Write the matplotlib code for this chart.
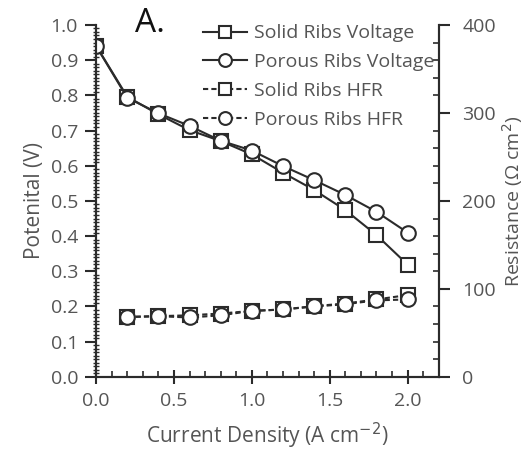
import matplotlib
matplotlib.use('Agg')
import matplotlib.pyplot as plt
from matplotlib.ticker import MultipleLocator

plt.rcParams['font.family'] = ['Open Sans', 'DejaVu Sans']

current = [0.0, 0.2, 0.4, 0.6, 0.8, 1.0, 1.2, 1.4, 1.6, 1.8, 2.0]
solid_v = [0.941, 0.796, 0.746, 0.701, 0.670, 0.632, 0.580, 0.531, 0.474, 0.403, 0.319]
porous_v = [0.940, 0.793, 0.749, 0.713, 0.671, 0.643, 0.599, 0.559, 0.517, 0.469, 0.410]

current_hfr = [0.2, 0.4, 0.6, 0.8, 1.0, 1.2, 1.4, 1.6, 1.8, 2.0]
solid_hfr = [68.2, 69.0, 70.0, 72.0, 75.0, 76.6, 80.4, 83.4, 88.0, 93.0]
porous_hfr = [68.0, 69.0, 67.5, 70.0, 75.0, 76.6, 80.0, 82.6, 87.0, 88.0]

line_c = '#2b2b2b'
text_c = '#555555'

fig = plt.figure(figsize=(5.28, 4.53), dpi=100)
ax = fig.add_axes([0.182, 0.168, 0.649, 0.777])
ax2 = ax.twinx()

mk = dict(color=line_c, markerfacecolor='white', markeredgecolor=line_c,
          markeredgewidth=1.5, linewidth=1.5, markersize=10.5)
h1, = ax.plot(current, solid_v, '-', marker='s', label='Solid Ribs Voltage', **mk)
h2, = ax.plot(current, porous_v, '-', marker='o', label='Porous Ribs Voltage', **mk)
h3, = ax2.plot(current_hfr, solid_hfr, '--', marker='s', dashes=(2.5, 1.5), label='Solid Ribs HFR', **mk)
h4, = ax2.plot(current_hfr, porous_hfr, '--', marker='o', dashes=(2.5, 1.5), label='Porous Ribs HFR', **mk)

ax.set_xlim(0, 2.2)
ax.set_ylim(0, 1.0)
ax2.set_ylim(0, 400)

for a in (ax, ax2):
    a.spines['top'].set_visible(False)
    for s in ('left', 'right', 'bottom'):
        a.spines[s].set_linewidth(1.5)
        a.spines[s].set_color(line_c)

ax.xaxis.set_major_locator(MultipleLocator(0.5))
ax.xaxis.set_minor_locator(MultipleLocator(0.1))
ax.yaxis.set_major_locator(MultipleLocator(0.1))
ax.yaxis.set_minor_locator(MultipleLocator(0.01))
ax2.yaxis.set_major_locator(MultipleLocator(100))
ax2.yaxis.set_minor_locator(MultipleLocator(20))

ax.tick_params(axis='x', which='major', direction='inout', length=10, width=1.5,
               color=line_c, labelcolor=text_c, labelsize=14, pad=6)
ax.tick_params(axis='y', which='major', direction='out', length=8, width=1.5,
               color=line_c, labelcolor=text_c, labelsize=14, pad=5)
ax.tick_params(axis='x', which='minor', direction='in', length=4, width=1.2, color=line_c)
ax.tick_params(axis='y', which='minor', direction='inout', length=5, width=1.0, color=line_c)
ax2.tick_params(axis='y', which='major', direction='out', length=8, width=1.5,
                color=line_c, labelcolor=text_c, labelsize=14, pad=9)
ax2.tick_params(axis='y', which='minor', direction='in', length=4, width=1.2, color=line_c)
ax.xaxis.set_major_formatter(plt.FormatStrFormatter('%.1f'))
ax.yaxis.set_major_formatter(plt.FormatStrFormatter('%.1f'))

ax.set_xlabel('Current Density (A cm$^{-2}$)', color=text_c, fontsize=15, labelpad=8)
ax.set_ylabel('Potenital (V)', color=text_c, fontsize=15, labelpad=4)
ax2.set_ylabel('Resistance (Ω cm$^{2}$)', color=text_c, fontsize=14, labelpad=3)

fig.text(0.255, 0.93, 'A.', fontsize=24, color='#111111')

fig.legend(handles=[h1, h2, h3, h4], loc='upper left', bbox_to_anchor=(0.384, 0.946),
           frameon=False, fontsize=14, labelcolor=text_c, handlelength=2.3,
           handletextpad=0.36, labelspacing=0.55, borderaxespad=0, borderpad=0,
           markerscale=0.88)

fig.savefig('out.png', dpi=100)
